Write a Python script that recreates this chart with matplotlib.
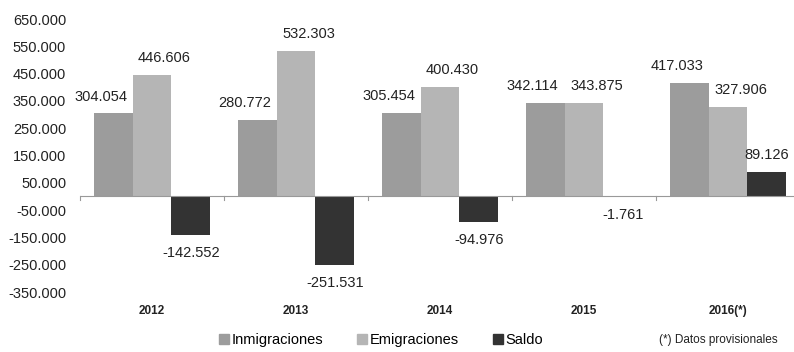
import numpy as np
import matplotlib.pyplot as plt
from matplotlib.transforms import blended_transform_factory
from matplotlib.patches import Patch

plt.rcParams['font.family'] = ['Liberation Sans', 'DejaVu Sans']

# Datos (personas)
years = ['2012', '2013', '2014', '2015', '2016(*)']
inmigraciones = [304054, 280772, 305454, 342114, 417033]
emigraciones = [446606, 532303, 400430, 343875, 327906]
saldo = [-142552, -251531, -94976, -1761, 89126]

col_inm = '#9c9c9c'
col_emi = '#b5b5b5'
col_sal = '#333333'

def miles(v):
    return f'{v:,.0f}'.replace(',', '.')

fig = plt.figure(figsize=(7.94, 3.52), dpi=100)
ax = fig.add_axes([80/794, 1 - 292/352, 714/794, 273/352])

x = np.arange(len(years))
w = 0.27
b1 = ax.bar(x - w, inmigraciones, w, color=col_inm)
b2 = ax.bar(x, emigraciones, w, color=col_emi)
b3 = ax.bar(x + w, saldo, w, color=col_sal)

# etiquetas de valor
for bars, vals, dx in [(b1, inmigraciones, -9), (b2, emigraciones, 9), (b3, saldo, 0)]:
    for r, v in zip(bars, vals):
        cx = r.get_x() + r.get_width() / 2
        if v >= 0:
            ax.annotate(miles(v), (cx, v), xytext=(dx, 7), textcoords='offset points',
                        ha='center', va='bottom', fontsize=10.5, color='#222222')
        else:
            ax.annotate(miles(v), (cx, v), xytext=(dx, -8), textcoords='offset points',
                        ha='center', va='top', fontsize=10.5, color='#222222')

ax.set_xlim(-0.5, -0.5 + 714/144)
ax.set_ylim(-350000, 650000)
yt = np.arange(-350000, 650001, 100000)
ax.set_yticks(yt)
ax.set_yticklabels([miles(v) for v in yt], fontsize=10.5, color='#222222')
ax.tick_params(axis='y', length=0, pad=10)

for s in ['top', 'right', 'left', 'bottom']:
    ax.spines[s].set_visible(False)
ax.axhline(0, color='#999999', lw=0.8)

# marcas entre grupos sobre el eje cero
ax.set_xticks([])
for xb in np.arange(-0.5, 5, 1.0):
    ax.plot([xb, xb], [0, -12000], color='#999999', lw=0.8, clip_on=False)

trans = blended_transform_factory(ax.transData, ax.transAxes)
for xi, yr in zip(x, years):
    ax.text(xi, -0.07, yr, transform=trans, ha='center', va='center',
            fontsize=8.5, fontweight='bold', color='#222222')

handles = [Patch(color=col_inm), Patch(color=col_emi), Patch(color=col_sal)]
fig.legend(handles, ['Inmigraciones', 'Emigraciones', 'Saldo'], loc='center',
           bbox_to_anchor=(381/794, 1 - 340/352), ncol=3, frameon=False,
           fontsize=10.5, handlelength=0.7, handleheight=0.7, handletextpad=0.2,
           columnspacing=2.3)
fig.text(718/794, 1 - 340/352, '(*) Datos provisionales', ha='center', va='center',
         fontsize=8.5, color='#222222')

fig.savefig('out.png', dpi=100, facecolor='white')
